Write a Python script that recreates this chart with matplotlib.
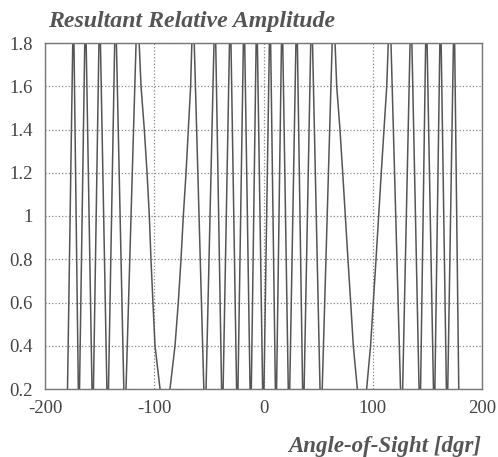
import matplotlib
matplotlib.use("Agg")
import matplotlib.pyplot as plt

# angle-of-sight samples [dgr] and resultant relative amplitude
angle_dgr = [-180, -174, -169, -163, -156.3, -150, -142.6, -135.5, -127,
             -115.5, -112.1, -109.1, -106.6, -104.5, -103, -101.2, -99.3, -94.7,
             -90.2, -85.6, -81, -78, -75.5, -73.4, -70.9, -68.8, -66.7, -64.5,
             -53.5, -44.4, -37.7, -30.4, -24, -17.8, -11.7, -6.2, -0.2, 6,
             11.4, 17, 23.3, 30.4, 36.4, 44, 52.6,
             64, 67, 70, 72.5, 74.9, 77.3, 79.8, 82.2, 85.9,
             89.9, 94.4, 98, 100.5, 103, 105.4, 107.8, 110.3, 112.8, 115.6,
             126.5, 135, 143.2, 149, 156.3, 162, 168, 174.5, 179.2]
amplitude = [0, 2, 0, 2, 0, 2, 0, 2, 0,
             2, 1.6, 1.4, 1.2, 1.0, 0.8, 0.6, 0.4, 0.2,
             0, 0.2, 0.4, 0.6, 0.8, 1.0, 1.2, 1.4, 1.6, 2,
             0, 2, 0, 2, 0, 2, 0, 2, 0, 2,
             0, 2, 0, 2, 0, 2, 0,
             2, 1.6, 1.4, 1.2, 1.0, 0.8, 0.6, 0.4, 0.2,
             0, 0.2, 0.4, 0.6, 0.8, 1.0, 1.2, 1.4, 1.6, 2,
             0, 2, 0, 2, 0, 2, 0, 2, 0]

x_ticks = [-200, -100, 0, 100, 200]
y_ticks = [0.2, 0.4, 0.6, 0.8, 1.0, 1.2, 1.4, 1.6, 1.8]
y_labels = ["0.2", "0.4", "0.6", "0.8", "1", "1.2", "1.4", "1.6", "1.8"]

plt.rcParams['font.family'] = ['Liberation Serif', 'DejaVu Serif']
plt.rcParams['axes.unicode_minus'] = False

fig = plt.figure(figsize=(4.98, 4.57), dpi=100)
ax = fig.add_axes([45 / 498, 68 / 457, 437 / 498, 346 / 457])

ax.plot(angle_dgr, amplitude, color='#555555', linewidth=1.1)

ax.set_xlim(-200, 200)
ax.set_ylim(0.2, 1.8)
ax.set_xticks(x_ticks)
ax.set_yticks(y_ticks)
ax.set_yticklabels(y_labels)
ax.tick_params(length=0, labelsize=13.5, colors='#444444')
ax.tick_params(axis='x', pad=8)
ax.tick_params(axis='y', pad=9)
ax.grid(True, linestyle=':', color='#888888', linewidth=0.9)
for s in ax.spines.values():
    s.set_color('#777777')
    s.set_linewidth(1.0)

fig.text(48 / 498, 1 - 27 / 457, "Resultant Relative Amplitude", fontsize=17.2,
         fontweight='bold', fontstyle='italic', color='#555555', ha='left', va='baseline')
fig.text(481 / 498, 1 - 452 / 457, "Angle-of-Sight [dgr]", fontsize=16.5,
         fontweight='bold', fontstyle='italic', color='#555555', ha='right', va='baseline')

fig.savefig("out.png", dpi=100)
